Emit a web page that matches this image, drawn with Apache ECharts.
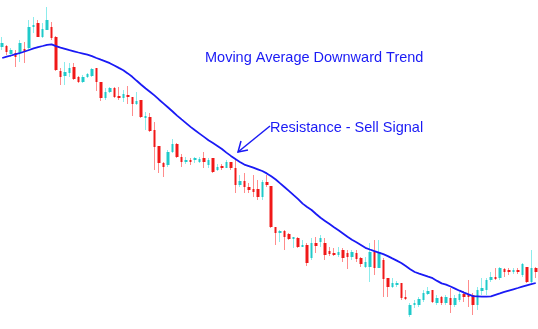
<!DOCTYPE html>
<html><head><meta charset="utf-8">
<script src="https://cdn.jsdelivr.net/npm/echarts@6/dist/echarts.min.js"></script>
<style>html,body{margin:0;padding:0;background:#fff}#c{width:538px;height:329px}</style>
</head><body><div id="c"></div>
<script>
// candle values (price units)
const opens  = [282,283,275,276,276,280,281,302,306,292,299,302,292,258,253,256,262,252,247,252,253,261,247,231,237,241,233,231,234,232,225,229,211,212,199,183,166,164,177,185,172,167,169,169,167,171,164,171,159,163,161,167,161,144,148,142,140,140,132,147,143,102,96,98,95,90,91,82,84,71,86,87,86,78,76,74,79,76,72,76,71,62,62,77,61,69,51,42,44,46,32,14,24,24,29,35,39,26,32,26,31,24,29,35,35,34,24,38,39,49,52,51,60,59,57,59,54,62,47,61];
const closes = [286,277,279,272,286,278,302,304,292,300,309,291,259,252,257,261,250,247,252,255,260,247,231,237,241,232,231,235,232,225,228,212,213,198,182,166,162,177,185,172,167,169,167,171,170,167,169,157,162,161,167,161,144,148,142,139,137,132,147,144,102,96,98,92,90,92,82,84,66,86,83,91,74,75,74,77,71,72,77,70,65,67,77,61,77,50,42,46,46,31,30,24,26,30,36,38,27,31,26,32,24,31,35,32,32,24,39,41,49,52,50,61,57,57,59,57,65,47,61,57];
const lows   = [279,274,272,262,267,266,279,296,292,291,299,289,258,244,244,252,249,246,246,251,252,238,228,229,236,231,229,227,225,213,224,211,199,197,159,156,152,162,176,171,162,165,164,166,166,161,161,156,158,159,161,159,136,142,136,136,132,129,129,142,101,84,87,79,89,81,81,82,63,69,76,82,69,73,73,72,67,60,69,67,62,61,47,54,61,32,32,41,42,29,29,12,21,22,27,34,26,24,24,24,16,22,27,27,22,14,19,34,34,47,49,49,52,54,55,55,52,46,46,51];
const highs  = [292,284,281,279,289,287,309,312,309,306,322,307,293,261,267,266,266,253,254,256,261,261,247,241,242,242,242,239,243,232,237,229,217,216,207,183,167,179,190,186,175,172,171,172,172,177,171,171,165,165,169,167,171,154,156,146,154,149,149,154,143,102,99,99,96,92,92,89,86,91,92,94,91,82,81,82,81,79,79,79,72,72,86,89,89,71,51,51,48,46,39,26,29,32,39,42,39,34,33,34,41,34,37,38,49,36,42,51,51,57,61,62,61,61,61,61,66,62,79,62];
const movingAvg = [271,272.3,273.5,274.8,276,277.5,279,280.6,281.9,283,284.2,284.7,282.8,281.4,280.1,278.8,277.7,276.5,275.4,274.3,272.8,271,269.3,267.7,265.8,263.5,261.1,258.8,255.6,252.2,248.2,244.3,240.5,237,233.4,229.3,225.4,221.5,217.5,213.4,209.6,205.9,202.1,198.7,195.4,192.1,188.8,186,183.1,180,176.4,173.1,169.9,167.1,164.4,162.9,161.4,159.7,158,155.6,152.7,149.5,145.6,141.8,137.9,133.8,129.8,125.4,122,119,115,111.2,108.1,105,101.8,98.7,95.5,92.3,89.3,86.8,84,81.2,79.5,77.9,76.4,74.8,72.9,70.6,68.4,66,62.9,59.8,57,55.4,53.9,52.3,50.8,48.1,45.6,44.4,42.5,40.4,38.3,36.4,34.6,32.9,32.6,32.3,32.4,32.7,34.2,35.6,37.1,38.4,39.7,41,42.4,43.6,44.8,46];
const categories = opens.map((_, i) => String(i + 1));
const titleText = 'Moving Average Downward Trend';
const signalText = 'Resistance - Sell Signal';

const full = opens.map((o, i) => [o, closes[i], lows[i], highs[i]]);
const bodies = opens.map((o, i) => [o, closes[i], Math.min(o, closes[i]), Math.max(o, closes[i])]);

const chart = echarts.init(document.getElementById('c'), null, {renderer: 'canvas'});
const BLUE = '#1a1af5';
const FONT = '14.5px "Liberation Sans", Arial, sans-serif';
chart.setOption({
  animation: false,
  backgroundColor: '#ffffff',
  grid: {left: -2, right: 0, top: 0, bottom: 0},
  xAxis: {type: 'category', data: categories, show: false, boundaryGap: true},
  yAxis: {type: 'value', min: 0, max: 329, show: false, splitLine: {show: false}},
  series: [
    {type: 'candlestick', data: full, barWidth: 1,
     itemStyle: {color: '#8cecec', color0: '#ff8c8c', borderColor: '#8cecec', borderColor0: '#ff8c8c', borderWidth: 1}},
    {type: 'candlestick', data: bodies, barWidth: 3,
     itemStyle: {color: '#1fcaca', color0: '#f01818', borderColor: '#1fcaca', borderColor0: '#f01818', borderWidth: 0}},
    {type: 'line', data: movingAvg, symbol: 'none', smooth: false,
     lineStyle: {color: BLUE, width: 1.8}, z: 5}
  ],
  graphic: [
    {type: 'text', left: 205, top: 50, style: {text: titleText, fill: BLUE, font: FONT}},
    {type: 'text', left: 270, top: 120, style: {text: signalText, fill: BLUE, font: FONT}},
    {type: 'polyline', shape: {points: [[270, 126], [238, 152]]}, style: {stroke: BLUE, lineWidth: 1.5, fill: null}},
    {type: 'polyline', shape: {points: [[241, 141], [238, 152], [248, 150]]}, style: {stroke: BLUE, lineWidth: 1.5, fill: null}}
  ]
});
</script></body></html>
